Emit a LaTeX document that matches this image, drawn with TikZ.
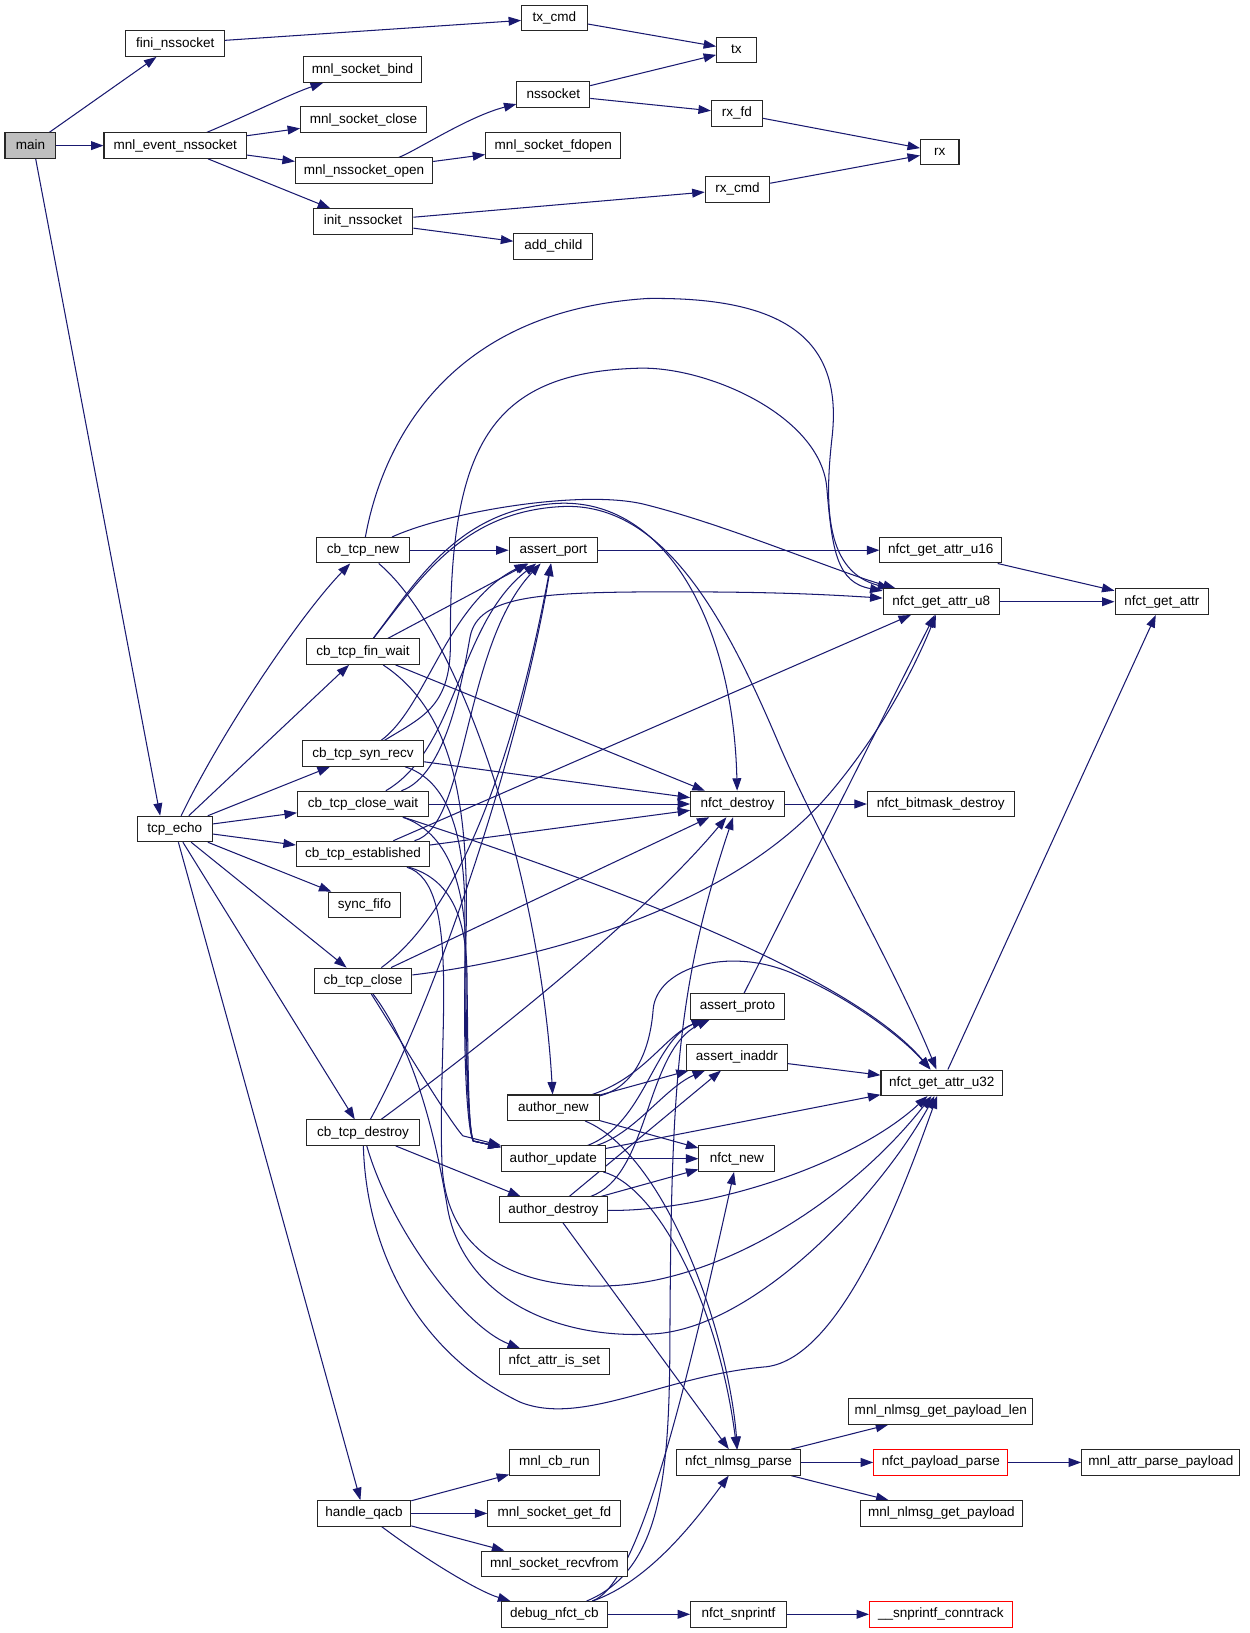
\documentclass[tikz,border=0pt]{standalone}
\usepackage{fontspec}
\setmainfont{Liberation Sans}
\usetikzlibrary{arrows.meta}
\definecolor{edgeblue}{HTML}{191970}
\definecolor{mainfill}{HTML}{BFBFBF}
\pgfdeclarelayer{bg}
\pgfsetlayers{bg,main}
\begin{document}
\begin{tikzpicture}[x=1pt,y=-1pt,
  fn/.style={draw=black!85, line width=1pt, fill=white, inner sep=0pt,
    minimum height=24.5pt, text height=9.3pt, text depth=2.7pt,
    font=\fontsize{13}{15}\selectfont},
  redfn/.style={fn, draw=red},
  arr/.style={draw=edgeblue, line width=1pt, -{Triangle[length=12pt,width=8.5pt]}}]
\useasboundingbox (0,0) rectangle (1201,1570);
% ---------- nodes ----------
\node[fn, fill=mainfill, minimum width=49pt] (main) at (29.3,140) {main};
\node[fn, minimum width=95pt] (fini) at (168.5,42) {fini\_nssocket};
\node[fn, minimum width=137pt] (mnlevent) at (168.5,140) {mnl\_event\_nssocket};
\node[fn, minimum width=63pt] (txcmd) at (533,17.5) {tx\_cmd};
\node[fn, minimum width=113pt] (bind) at (348.5,67) {mnl\_socket\_bind};
\node[fn, minimum width=121pt] (sclose) at (349.5,115) {mnl\_socket\_close};
\node[fn, minimum width=132pt] (nsopen) at (350,164) {mnl\_nssocket\_open};
\node[fn, minimum width=70pt] (nssocket) at (532,91) {nssocket};
\node[fn, minimum width=130pt] (fdopen) at (532,140) {mnl\_socket\_fdopen};
\node[fn, minimum width=96pt] (initns) at (349,213) {init\_nssocket};
\node[fn, minimum width=76pt] (addchild) at (532,237) {add\_child};
\node[fn, minimum width=38pt] (tx) at (708,48) {tx};
\node[fn, minimum width=49pt] (rxfd) at (708.5,109) {rx\_fd};
\node[fn, minimum width=37pt] (rx) at (903.5,146) {rx};
\node[fn, minimum width=62pt] (rxcmd) at (709,182) {rx\_cmd};
\node[fn, minimum width=90pt] (cbnew) at (349,529) {cb\_tcp\_new};
\node[fn, minimum width=85pt] (assertport) at (532,529) {assert\_port};
\node[fn, minimum width=117pt] (u16) at (904.5,529) {nfct\_get\_attr\_u16};
\node[fn, minimum width=112pt] (u8) at (905,578.5) {nfct\_get\_attr\_u8};
\node[fn, minimum width=90pt] (getattr) at (1117,578.5) {nfct\_get\_attr};
\node[fn, minimum width=108pt] (finwait) at (349,626.5) {cb\_tcp\_fin\_wait};
\node[fn, minimum width=116pt] (synrecv) at (349,724.5) {cb\_tcp\_syn\_recv};
\node[fn, minimum width=126pt] (closewait) at (349,773) {cb\_tcp\_close\_wait};
\node[fn, minimum width=72pt] (tcpecho) at (168,797) {tcp\_echo};
\node[fn, minimum width=90pt] (nfctdestroy) at (709,773) {nfct\_destroy};
\node[fn, minimum width=141pt] (bitmask) at (904.5,773) {nfct\_bitmask\_destroy};
\node[fn, minimum width=128pt] (established) at (349,821) {cb\_tcp\_established};
\node[fn, minimum width=69pt] (syncfifo) at (350.5,870) {sync\_fifo};
\node[fn, minimum width=94pt] (cbclose) at (349,943) {cb\_tcp\_close};
\node[fn, minimum width=90pt] (assertproto) at (709,967.5) {assert\_proto};
\node[fn, minimum width=97pt] (assertinaddr) at (708.5,1016.5) {assert\_inaddr};
\node[fn, minimum width=117pt] (u32) at (905.5,1041) {nfct\_get\_attr\_u32};
\node[fn, minimum width=88pt] (authornew) at (532,1065) {author\_new};
\node[fn, minimum width=108pt] (cbdestroy) at (349,1089) {cb\_tcp\_destroy};
\node[fn, minimum width=100pt] (authorupdate) at (532,1114) {author\_update};
\node[fn, minimum width=73pt] (nfctnew) at (708.5,1114) {nfct\_new};
\node[fn, minimum width=104pt] (authordestroy) at (532,1163) {author\_destroy};
\node[fn, minimum width=106pt] (nfctattr) at (533,1309) {nfct\_attr\_is\_set};
\node[fn, minimum width=177pt] (payloadlen) at (904.5,1357) {mnl\_nlmsg\_get\_payload\_len};
\node[fn, minimum width=86pt] (mnlcbrun) at (533,1406) {mnl\_cb\_run};
\node[fn, minimum width=120pt] (nlmsgparse) at (710,1406) {nfct\_nlmsg\_parse};
\node[redfn, minimum width=129pt] (payloadparse) at (904.5,1406) {nfct\_payload\_parse};
\node[fn, minimum width=152pt] (attrparse) at (1116,1406) {mnl\_attr\_parse\_payload};
\node[fn, minimum width=90pt] (handleqacb) at (350,1455) {handle\_qacb};
\node[fn, minimum width=128pt] (getfd) at (533,1455) {mnl\_socket\_get\_fd};
\node[fn, minimum width=156pt] (getpayload) at (905,1455) {mnl\_nlmsg\_get\_payload};
\node[fn, minimum width=141pt] (recvfrom) at (533,1503.5) {mnl\_socket\_recvfrom};
\node[fn, minimum width=102pt] (debug) at (533,1552) {debug\_nfct\_cb};
\node[fn, minimum width=92pt] (nfctsnprintf) at (710,1552) {nfct\_snprintf};
\node[redfn, minimum width=137pt] (snprintfct) at (904.5,1552) {\_\_snprintf\_conntrack};
% ---------- edges ----------
\begin{pgfonlayer}{bg}
\fill[white] (0,0) rectangle (1201,1570);
% top part
\draw[arr] (main) -- (fini);
\draw[arr] (main) -- (mnlevent);
\draw[arr] ([xshift=5pt]main.south) -- ([xshift=-14pt]tcpecho.north);
\draw[arr] (fini) -- (txcmd);
\draw[arr] (txcmd) -- (tx);
\draw[arr] (mnlevent) .. controls (240,110) and (280,90) .. (bind);
\draw[arr] (mnlevent) -- (sclose);
\draw[arr] (mnlevent) -- (nsopen);
\draw[arr] (mnlevent) -- (initns);
\draw[arr] (nsopen) .. controls (400,145) and (450,112) .. (nssocket);
\draw[arr] (nsopen) -- (fdopen);
\draw[arr] (nssocket) -- (tx);
\draw[arr] (nssocket) -- (rxfd);
\draw[arr] (rxfd) -- (rx);
\draw[arr] (initns) -- (rxcmd);
\draw[arr] (initns) -- (addchild);
\draw[arr] (rxcmd) -- (rx);
% tcp_echo
\draw[arr] (tcpecho) .. controls (215,700) and (290,590) .. (cbnew);
\draw[arr] (tcpecho) -- (finwait);
\draw[arr] (tcpecho) -- (synrecv);
\draw[arr] (tcpecho) -- (closewait);
\draw[arr] (tcpecho) -- (established);
\draw[arr] (tcpecho) -- (syncfifo);
\draw[arr] (tcpecho) -- (cbclose);
\draw[arr] (tcpecho) -- (cbdestroy);
\draw[arr] (tcpecho) -- (handleqacb);
% handle_qacb
\draw[arr] (handleqacb) -- (mnlcbrun);
\draw[arr] (handleqacb) -- (getfd);
\draw[arr] (handleqacb) -- (recvfrom);
\draw[arr] (handleqacb) .. controls (410,1500) and (460,1530) .. (debug);
% debug_nfct_cb
\draw[arr] (debug) -- (nfctsnprintf);
\draw[arr] (debug) .. controls (625,1520) and (670,1460) .. (nlmsgparse);
\draw[arr] (debug) .. controls (610,1525) and (650,1380) .. (nfctnew);
\draw[arr] (debug) .. controls (635,1510) and (643,1420) .. (644,1300) .. controls (645,1050) and (650,950) .. (nfctdestroy);
% nlmsg parse etc
\draw[arr] (nlmsgparse) -- (payloadlen);
\draw[arr] (nlmsgparse) -- (payloadparse);
\draw[arr] (nlmsgparse) -- (getpayload);
\draw[arr] (payloadparse) -- (attrparse);
\draw[arr] (nfctsnprintf) -- (snprintfct);
% right side
\draw[arr] (assertport) -- (u16);
\draw[arr] (u16) -- (getattr);
\draw[arr] (u8) -- (getattr);
\draw[arr] (u32) -- (getattr);
\draw[arr] (nfctdestroy) -- (bitmask);
\draw[arr] (assertproto) -- (u8);
\draw[arr] (assertinaddr) -- (u32);
% cb_tcp_new
\draw[arr] (cbnew) -- (assertport);
\draw[arr] (cbnew) .. controls (445,610) and (520,850) .. (authornew);
\draw[arr] (cbnew) .. controls (365,440) and (420,300) .. (622,287) .. controls (760,285) and (810,330) .. (800,420) .. controls (792,490) and (795,550) .. (u8);
\draw[arr] (cbnew) .. controls (430,492) and (560,470) .. (620,485) .. controls (700,505) and (800,548) .. (u8);
% cb_tcp_fin_wait
\draw[arr] (finwait) -- (assertport);
\draw[arr] (finwait) -- (nfctdestroy);
\draw[arr] (finwait) .. controls (400,560) and (440,490) .. (535,484) .. controls (640,478) and (705,600) .. (nfctdestroy);
\draw[arr] (finwait) .. controls (405,555) and (445,492) .. (540,487) .. controls (640,482) and (700,600) .. (750,718) .. controls (790,810) and (860,930) .. (u32);
\draw[arr] (finwait) .. controls (430,680) and (452,760) .. (448,900) .. controls (444,1020) and (450,1090) .. (455,1097) -- (authorupdate);
% cb_tcp_syn_recv
\draw[arr] (synrecv) -- (nfctdestroy);
\draw[arr] (synrecv) .. controls (410,680) and (430,580) .. (assertport);
\draw[arr] (synrecv) .. controls (405,690) and (433,680) .. (433,620) .. controls (432,430) and (470,358) .. (614,354) .. controls (680,352) and (790,400) .. (795,470) .. controls (800,530) and (805,560) .. (u8);
\draw[arr] (synrecv) .. controls (430,750) and (447,800) .. (447,880) .. controls (446,1000) and (450,1085) .. (455,1097) -- (authorupdate);
% cb_tcp_close_wait
\draw[arr] (closewait) -- (nfctdestroy);
\draw[arr] (closewait) .. controls (600,855) and (820,940) .. (u32);
\draw[arr] (closewait) .. controls (430,745) and (445,650) .. (452,612) .. controls (460,572) and (520,569) .. (650,569) .. controls (750,569) and (800,572) .. (u8);
\draw[arr] (closewait) .. controls (440,720) and (440,600) .. (assertport);
\draw[arr] (closewait) .. controls (430,800) and (448,850) .. (448,920) .. controls (448,1010) and (450,1085) .. (455,1097) -- (authorupdate);
% cb_tcp_established
\draw[arr] (established) -- (nfctdestroy);
\draw[arr] (established) -- (u8);
\draw[arr] (established) .. controls (450,795) and (445,620) .. (assertport);
\draw[arr] (established) .. controls (432,845) and (449,880) .. (449,940) .. controls (450,1020) and (450,1085) .. (455,1097) -- (authorupdate);
\draw[arr] (established) .. controls (445,850) and (420,1000) .. (425,1120) .. controls (430,1220) and (520,1240) .. (590,1236) .. controls (700,1230) and (820,1150) .. (u32);
% cb_tcp_close
\draw[arr] (cbclose) -- (nfctdestroy);
\draw[arr] (cbclose) .. controls (450,870) and (500,700) .. (assertport);
\draw[arr] (cbclose) .. controls (500,925) and (700,880) .. (800,760) .. controls (850,700) and (880,640) .. (u8);
\draw[arr] (cbclose) .. controls (385,1000) and (430,1075) .. (445,1092) -- (authorupdate);
\draw[arr] (cbclose) .. controls (400,1010) and (420,1100) .. (430,1160) .. controls (445,1250) and (540,1290) .. (634,1282) .. controls (730,1272) and (845,1150) .. (u32);
% cb_tcp_destroy
\draw[arr] (cbdestroy) -- (authordestroy);
\draw[arr] (cbdestroy) .. controls (375,1180) and (445,1275) .. (nfctattr);
\draw[arr] (cbdestroy) .. controls (420,960) and (500,720) .. (assertport);
\draw[arr] (cbdestroy) .. controls (470,1000) and (620,880) .. (nfctdestroy);
\draw[arr] (cbdestroy) .. controls (352,1200) and (400,1300) .. (500,1348) .. controls (560,1372) and (640,1322) .. (737,1314) .. controls (810,1305) and (870,1140) .. (u32);
% author_new
\draw[arr] (authornew) .. controls (620,1035) and (640,995) .. (assertproto);
\draw[arr] (authornew) .. controls (610,1045) and (625,1010) .. (628,970) .. controls (632,930) and (700,910) .. (760,935) .. controls (820,960) and (870,1000) .. (u32);
\draw[arr] (authornew) -- (assertinaddr);
\draw[arr] (authornew) -- (nfctnew);
\draw[arr] (authornew) .. controls (640,1110) and (700,1280) .. (nlmsgparse);
% author_update
\draw[arr] (authorupdate) -- (nfctnew);
\draw[arr] (authorupdate) -- (u32);
\draw[arr] (authorupdate) .. controls (620,1080) and (628,1000) .. (assertproto);
\draw[arr] (authorupdate) .. controls (610,1090) and (640,1045) .. (assertinaddr);
\draw[arr] (authorupdate) .. controls (630,1140) and (690,1250) .. (nlmsgparse);
% author_destroy
\draw[arr] (authordestroy) .. controls (625,1130) and (620,1010) .. (assertproto);
\draw[arr] (authordestroy) -- (assertinaddr);
\draw[arr] (authordestroy) -- (nfctnew);
\draw[arr] (authordestroy) .. controls (680,1165) and (820,1120) .. (u32);
\draw[arr] (authordestroy) -- (nlmsgparse);
\end{pgfonlayer}
\end{tikzpicture}
\end{document}
